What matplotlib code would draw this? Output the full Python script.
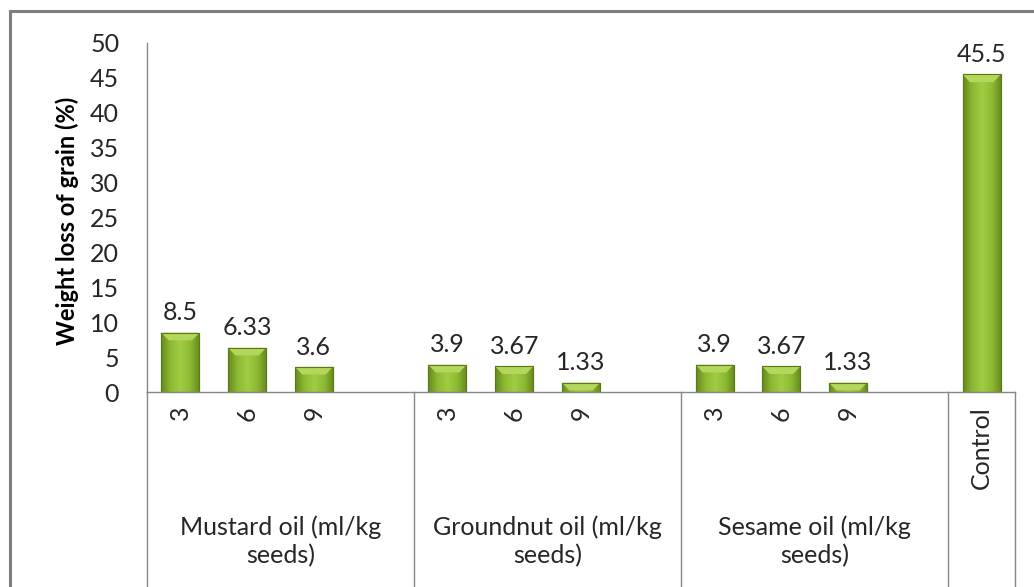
import numpy as np
import matplotlib
matplotlib.use('Agg')
import matplotlib.pyplot as plt
from matplotlib.colors import LinearSegmentedColormap
from matplotlib.patches import Polygon, Rectangle
import matplotlib.transforms as mtransforms

plt.rcParams['font.family'] = ['Lato', 'DejaVu Sans']

# Weight loss (%) for each dose, grouped by oil, plus the untreated control
doses = ['3', '6', '9']
groups = ['Mustard oil (ml/kg\nseeds)', 'Groundnut oil (ml/kg\nseeds)', 'Sesame oil (ml/kg\nseeds)']
mustard = [8.5, 6.33, 3.6]
groundnut = [3.9, 3.67, 1.33]
sesame = [3.9, 3.67, 1.33]
control = 45.5

series = [mustard, groundnut, sesame]

# slot layout: 3 doses + one empty slot per group, then Control
positions, values, labels = [], [], []
for g, vals in enumerate(series):
    for i, v in enumerate(vals):
        positions.append(g * 4 + i)
        values.append(v)
        labels.append(doses[i])
positions.append(12)
values.append(control)
labels.append('Control')

fig = plt.figure(figsize=(10.34, 5.87), dpi=100)
ax = fig.add_axes([147 / 1034, 1 - 392 / 587, 868 / 1034, 349 / 587])

grey = '#868686'
txt = '#262626'
fs = 18
width = 0.57
bars = ax.bar(positions, values, width=width, color='#8fbd35',
              edgecolor='#5a7a1a', linewidth=0.8, zorder=2)

# horizontal shading inside each bar
cmap = LinearSegmentedColormap.from_list('bevel', ['#67891e', '#8dbb34', '#a0cc42', '#8dbb34', '#67891e'])
grad = np.linspace(0, 1, 64)[None, :]
for b in bars:
    x0, h = b.get_x(), b.get_height()
    im = ax.imshow(grad, extent=[x0, x0 + width, 0, h], aspect='auto',
                   cmap=cmap, zorder=2.1, interpolation='bicubic')
    im.set_clip_path(b)
    # light chamfer on top
    dx, dy = 0.11, 1.1
    top = Polygon([(x0, h), (x0 + width, h), (x0 + width - dx, h - dy), (x0 + dx, h - dy)],
                  closed=True, facecolor='#b4d65a', edgecolor='none', zorder=2.2)
    ax.add_patch(top)
    ax.add_patch(Rectangle((x0, 0), width, h, facecolor='none',
                           edgecolor='#5a7a1a', linewidth=0.8, zorder=2.3))

for x, v in zip(positions, values):
    ax.annotate(f'{v:g}', (x, v), xytext=(0, 6), textcoords='offset points',
                ha='center', va='bottom', fontsize=fs, color=txt)

ax.set_xlim(-0.5, 12.5)
ax.set_ylim(0, 50)
ax.set_yticks(range(0, 51, 5))
ax.tick_params(axis='y', length=0, pad=20, labelsize=fs, labelcolor=txt)
ax.set_xticks(positions)
ax.set_xticklabels(labels, rotation=90, va='top', ha='center')
ax.tick_params(axis='x', length=0, pad=10, labelsize=fs, labelcolor=txt)

for s in ['top', 'right']:
    ax.spines[s].set_visible(False)
for s in ['left', 'bottom']:
    ax.spines[s].set_color(grey)
    ax.spines[s].set_linewidth(1.0)
ax.spines['left'].set_zorder(1)
ax.set_ylabel('Weight loss of grain (%)', fontsize=17, fontweight='bold', color='black')
ax.yaxis.set_label_coords(-0.078, 0.49)

# category separators hanging below the axis
trans = mtransforms.blended_transform_factory(ax.transData, ax.transAxes)
for xs in [-0.5, 3.5, 7.5, 11.5, 12.5]:
    ax.plot([xs, xs], [0, -0.555], transform=trans, color=grey, lw=1.0, clip_on=False)

for g, name in enumerate(groups):
    ax.text(g * 4 + 1.5, -0.427, name, transform=trans, ha='center', va='center',
            fontsize=fs, color=txt, linespacing=1.25)

# outer chart frame
fig.patches.append(Rectangle((10 / 1034, -0.1), 1.2, 1 - 11 / 587 + 0.1,
                             transform=fig.transFigure, fill=False,
                             edgecolor='#7f7f7f', linewidth=2.2))

fig.savefig('out.png', dpi=100, facecolor='white')
